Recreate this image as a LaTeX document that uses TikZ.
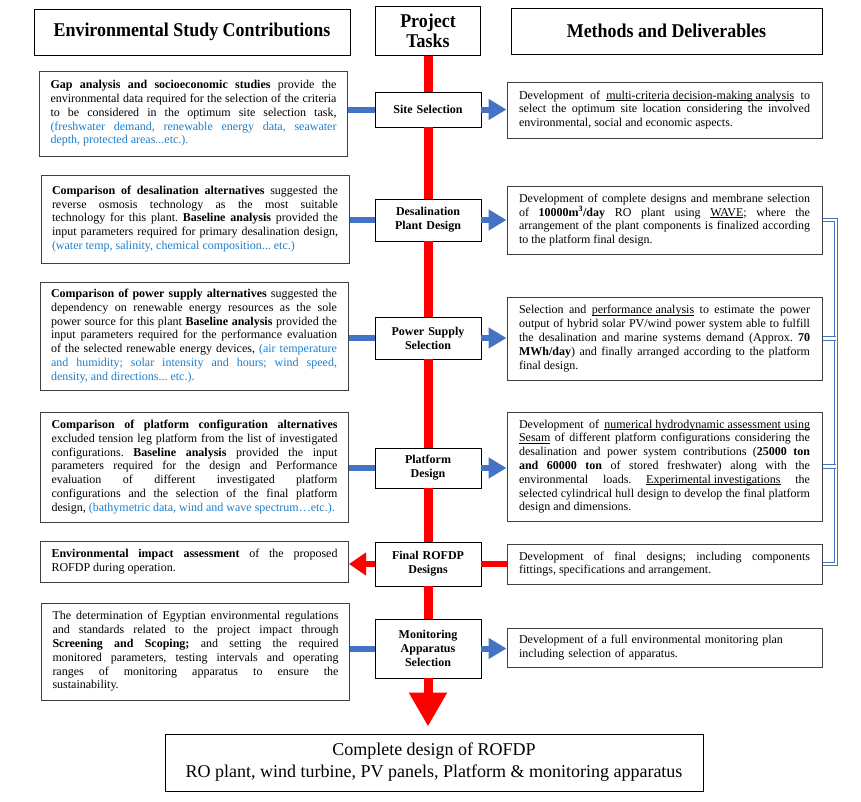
\documentclass[tikz,border=0pt]{standalone}
\usepackage{fontspec}
\setmainfont{Liberation Serif}
\newfontfamily\headfont{Liberation Serif}[FakeStretch=0.92]
\usetikzlibrary{arrows.meta}
\definecolor{linkblue}{RGB}{68,114,196}
\definecolor{noteblue}{RGB}{30,125,200}
\definecolor{boxgray}{RGB}{64,64,64}
% underline close to the baseline
\newcommand\undl[1]{\setbox0\hbox{#1}\rlap{\rule[-1.8pt]{\wd0}{0.6pt}}\box0\relax}

\begin{document}
\begin{tikzpicture}[x=1pt, y=-1pt,
    head/.style={draw, line width=1pt, minimum height=46pt, align=center, font=\headfont\bfseries\fontsize{19.5}{20}\selectfont},
    task/.style={draw, line width=0.9pt, fill=white, inner xsep=3pt, text width=100pt, align=center, font=\bfseries\fontsize{12}{14}\selectfont},
    note/.style={draw=boxgray, line width=1pt, inner ysep=3pt, align=justify, font=\sloppy\frenchspacing\fontsize{12}{13.8}\selectfont},
    envbox/.style={note, text width=286pt, inner xsep=11pt},
    methbox/.style={note, text width=291pt, inner xsep=12pt},
    trunk/.style={red, line width=9pt},
    redlink/.style={red, line width=6pt},
    bluelink/.style={linkblue, line width=6pt},
    bluearrow/.style={bluelink, -{Triangle[length=18pt, width=20pt]}},
    bus/.style={draw=linkblue, double, double distance=2.5pt, line width=0.9pt}
]
\useasboundingbox (0,0) rectangle (861,801);

% column heads
\node (envhead) [head, minimum width=316pt] at (192,32) {Environmental Study Contributions};
\node (tasks) [head, minimum width=105pt, minimum height=49pt] at (428,30.5) {Project\\Tasks};
\node (methhead) [head, minimum width=311pt] at (666.5,31) {Methods and Deliverables};

% project tasks
\node (site) [task, minimum height=35pt] at (428,109.5) {Site Selection};
\node (desal) [task, minimum height=42pt] at (428,220) {Desalination\\Plant Design};
\node (power) [task, minimum height=42pt] at (428,338) {Power Supply\\Selection};
\node (platform) [task, minimum height=40pt] at (428,468) {Platform\\Design};
\node (final) [task, minimum height=44pt] at (428,564) {Final ROFDP\\Designs};
\node (monitor) [task, minimum height=59pt] at (428,648.5) {Monitoring\\Apparatus\\Selection};

% environmental study contributions
\node (siteenv) [envbox, minimum height=85pt] at (193.5,113.5) {\textbf{Gap analysis and socioeconomic studies} provide the\linebreak environmental data required for the selection of the criteria\linebreak to be considered in the optimum site selection task,\linebreak {\color{noteblue}(freshwater demand, renewable energy data, seawater\linebreak depth, protected areas...etc.).}};
\node (desalenv) [envbox, minimum height=88pt] at (195,219) {\textbf{Comparison of desalination alternatives} suggested the\linebreak reverse osmosis technology as the most suitable\linebreak technology for this plant. \textbf{Baseline analysis} provided the\linebreak input parameters required for primary desalination design,\linebreak {\color{noteblue}(water temp, salinity, chemical composition... etc.)}};
\node (powerenv) [envbox, minimum height=108pt] at (194,336) {\textbf{Comparison of power supply alternatives} suggested the\linebreak dependency on renewable energy resources as the sole\linebreak power source for this plant \textbf{Baseline analysis} provided the\linebreak input parameters required for the performance evaluation\linebreak of the selected renewable energy devices, {\color{noteblue}(air temperature\linebreak and humidity; solar intensity and hours; wind speed,\linebreak density, and directions... etc.).}};
\node (platformenv) [envbox, minimum height=110pt] at (194.5,467) {\textbf{Comparison of platform configuration alternatives}\linebreak excluded tension leg platform from the list of investigated\linebreak configurations. \textbf{Baseline analysis} provided the input\linebreak parameters required for the design and Performance\linebreak evaluation of different investigated platform\linebreak configurations and the selection of the final platform\linebreak design, {\color{noteblue}(bathymetric data, wind and wave spectrum…etc.).}};
\node (finalenv) [envbox, minimum height=41pt] at (194.5,561.5) {\textbf{Environmental impact assessment} of the proposed\linebreak ROFDP during operation.};
\node (monitorenv) [envbox, minimum height=97pt] at (195.5,651.5) {The determination of Egyptian environmental regulations\linebreak and standards related to the project impact through\linebreak \textbf{Screening and Scoping;} and setting the required\linebreak monitored parameters, testing intervals and operating\linebreak ranges of monitoring apparatus to ensure the\linebreak sustainability.};

% methods and deliverables
\node (sitemeth) [methbox, minimum height=56pt] at (664.5,110) {Development of \undl{multi-criteria decision-making analysis} to\linebreak select the optimum site location considering the involved\linebreak environmental, social and economic aspects.};
\node (desalmeth) [methbox, minimum height=68pt] at (664.5,220) {Development of complete designs and membrane selection\linebreak of \textbf{10000m\textsuperscript{3}/day} RO plant using \undl{WAVE}; where the\linebreak arrangement of the plant components is finalized according\linebreak to the platform final design.};
\node (powermeth) [methbox, minimum height=83pt] at (664.5,338.5) {Selection and \undl{performance analysis} to estimate the power\linebreak output of hybrid solar PV/wind power system able to fulfill\linebreak the desalination and marine systems demand (Approx. \textbf{70}\linebreak \textbf{MWh/day}) and finally arranged according to the platform\linebreak final design.};
\node (platformmeth) [methbox, minimum height=109pt] at (664.5,466.5) {Development of \undl{numerical hydrodynamic assessment using}\linebreak \undl{Sesam} of different platform configurations considering the\linebreak desalination and power system contributions (\textbf{25000 ton}\linebreak \textbf{and 60000 ton} of stored freshwater) along with the\linebreak environmental loads. \undl{Experimental investigations} the\linebreak selected cylindrical hull design to develop the final platform\linebreak design and dimensions.};
\node (finalmeth) [methbox, minimum height=40pt] at (664.5,564) {Development of final designs; including components\linebreak fittings, specifications and arrangement.};
\node (monitormeth) [methbox, minimum height=39pt, align=left] at (664.5,647.5) {Development of a full environmental monitoring plan\\including selection of apparatus.};

% outcome
\node (result) [draw, line width=1pt, minimum width=538pt, minimum height=57pt, align=center, font=\fontsize{18}{22}\selectfont] at (434,762.5) {Complete design of ROFDP\\RO plant, wind turbine, PV panels, Platform \& monitoring apparatus};

% task line
\draw[trunk] (tasks) -- (site);
\draw[trunk] (site) -- (desal);
\draw[trunk] (desal) -- (power);
\draw[trunk] (power) -- (platform);
\draw[trunk] (platform) -- (final);
\draw[trunk] (final) -- (monitor);
\draw[trunk, -{Triangle[length=34pt, width=36pt]}, shorten >=7pt] (monitor.south) -- (monitor.south |- result.north);

% links to both sides
\foreach \t in {site, desal, power, platform, monitor} {
    \draw[bluelink] (\t.west) -- (\t.west -| \t env.east);
    \draw[bluearrow] (\t.east) -- (\t.east -| \t meth.west);
}
\draw[redlink, -{Triangle[length=17pt, width=22pt]}] (final.west) -- (final.west -| finalenv.east);
\draw[redlink] (final.east) -- (final.east -| finalmeth.west);

% feedback bus
\coordinate (bus) at (836,0);
\draw[bus] (desalmeth.east) -- (desalmeth.east -| bus) -- (finalmeth.east -| bus) -- (finalmeth.east);
\draw[bus] (powermeth.east) -- (powermeth.east -| bus);
\draw[bus] (platformmeth.east) -- (platformmeth.east -| bus);
\end{tikzpicture}
\end{document}
